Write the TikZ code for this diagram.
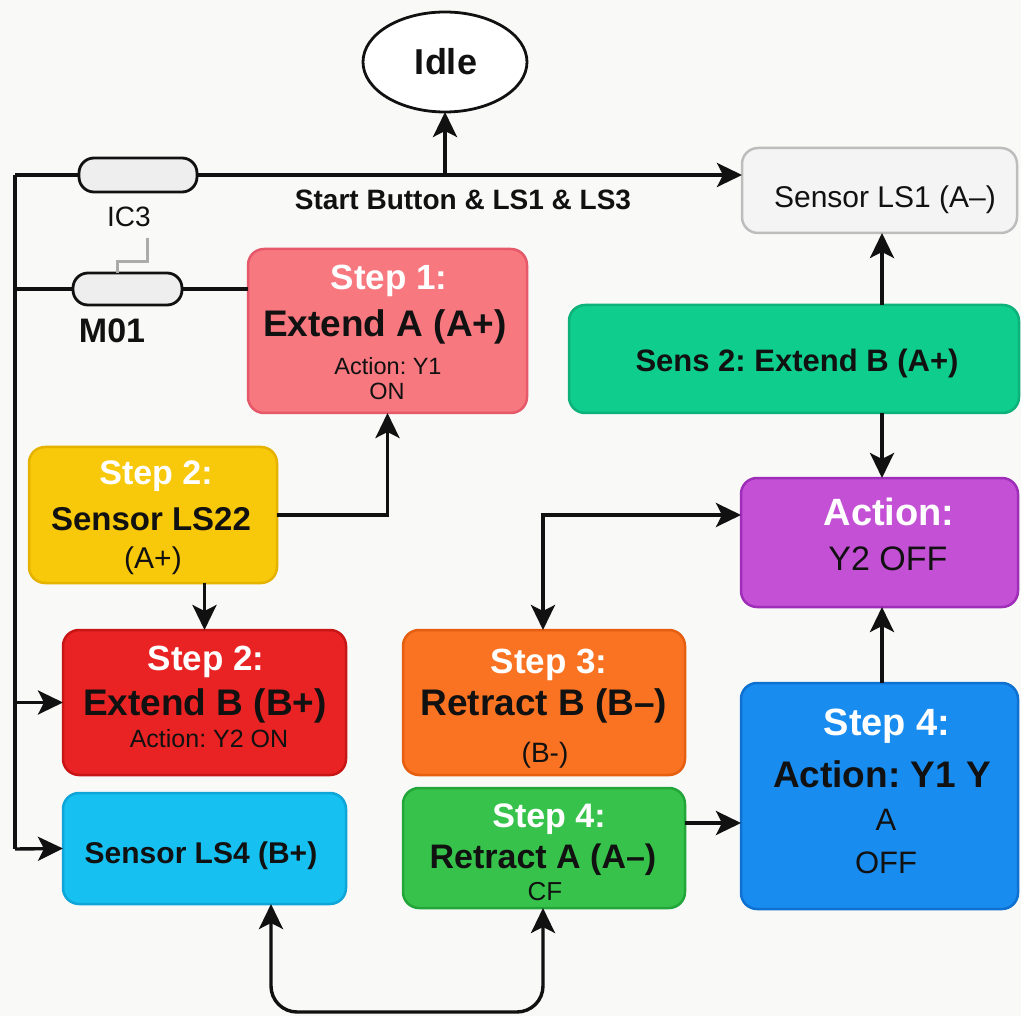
\documentclass[tikz,border=0pt]{standalone}
\usepackage{fontspec}
\setmainfont{Liberation Sans}
\usetikzlibrary{arrows.meta,shapes.geometric}

\newcommand\fsz[1]{\fontsize{#1}{#1}\selectfont}
\frenchspacing

% palette
\definecolor{bgc}{HTML}{F9F9F7}
\definecolor{ink}{HTML}{111111}
\definecolor{pinkF}{HTML}{F7787F}\definecolor{pinkD}{HTML}{E5596A}
\definecolor{yelF}{HTML}{F8C80A}\definecolor{yelD}{HTML}{E6B200}
\definecolor{redF}{HTML}{E92323}\definecolor{redD}{HTML}{C81515}
\definecolor{cyaF}{HTML}{16C0F0}\definecolor{cyaD}{HTML}{0EA5D8}
\definecolor{oraF}{HTML}{FA7323}\definecolor{oraD}{HTML}{E65E10}
\definecolor{grnF}{HTML}{37C34B}\definecolor{grnD}{HTML}{22A63A}
\definecolor{bluF}{HTML}{198CF0}\definecolor{bluD}{HTML}{0E70D0}
\definecolor{purF}{HTML}{C450D6}\definecolor{purD}{HTML}{9E2DB8}
\definecolor{tealF}{HTML}{0FCD8C}\definecolor{tealD}{HTML}{0CB27A}
\definecolor{grayF}{HTML}{F4F4F4}\definecolor{grayD}{HTML}{BDBDBD}
\definecolor{capF}{HTML}{EEEEEE}
\definecolor{linkG}{HTML}{ABABAB}

\tikzset{
  box/.style={draw, line width=2.5pt, rounded corners=16pt, inner sep=0pt, outer sep=0pt},
  capsule/.style={draw=ink, fill=capF, line width=2.8pt, rounded corners=15pt, inner sep=0pt, outer sep=0pt},
  lbl/.style={anchor=base, inner sep=0pt, outer sep=0pt},
  hd/.style={lbl, text=white, font={\fsz{#1}\bfseries}},
  bk/.style={lbl, text=ink, font={\fsz{#1}\bfseries}},
  rg/.style={lbl, text=ink, font={\fsz{#1}}},
  conn/.style={line width=3.4pt, draw=ink},
  tip/.tip={Stealth[length=25pt,width=24pt,inset=6pt]},
  arr/.style={conn, -tip},
  arrs/.style={conn, tip-tip},
}

\begin{document}
\begin{tikzpicture}[x=1pt,y=-1pt]
\fill[bgc] (0,0) rectangle (1021,1016);
\useasboundingbox (0,0) rectangle (1021,1016);

% ---- state boxes ----
\node[draw=ink, line width=2.8pt, fill=white, ellipse, minimum width=164pt, minimum height=100pt, inner sep=0pt, outer sep=0pt] (idle) at (445,62) {};
\node[box, draw=grayD, fill=grayF, minimum width=275pt, minimum height=85pt] (ls1) at (879.5,190.5) {};
\node[box, draw=tealD, fill=tealF, minimum width=450pt, minimum height=108pt] (sens2) at (794,359) {};
\node[box, draw=purD, fill=purF, minimum width=277pt, minimum height=129pt] (act) at (879.5,542.5) {};
\node[box, draw=bluD, fill=bluF, minimum width=277pt, minimum height=226pt] (s4b) at (879.5,796) {};
\node[box, draw=pinkD, fill=pinkF, minimum width=279pt, minimum height=164pt] (s1) at (387.5,331) {};
\node[box, draw=yelD, fill=yelF, minimum width=248pt, minimum height=136pt] (s2y) at (153,515) {};
\node[box, draw=redD, fill=redF, minimum width=283pt, minimum height=145pt] (s2r) at (204.5,702.5) {};
\node[box, draw=cyaD, fill=cyaF, minimum width=283pt, minimum height=111pt] (ls4) at (204.5,848.5) {};
\node[box, draw=oraD, fill=oraF, minimum width=282pt, minimum height=145pt] (s3) at (544,702.5) {};
\node[box, draw=grnD, fill=grnF, minimum width=282pt, minimum height=120pt] (s4g) at (544,848) {};

% ---- contacts ----
\node[capsule, minimum width=118pt, minimum height=34pt] (ic3) at (138,175) {};
\node[capsule, minimum width=109pt, minimum height=32pt] (m01) at (127.5,289) {};
\draw[linkG, line width=3pt] (117,273) -- (117,262) -- (147,262) -- (147,238);

% ---- rail and rungs ----
\coordinate (rt) at (15,175);
\coordinate (rb) at (15,849);
\coordinate (jidle) at (445,175);
\draw[conn] (rt) -- (rb);
\draw[conn] (rt) -- (ic3.west);
\draw[arr] (ic3.east) -- (ls1.west |- ic3.east);
\draw[arr] (jidle) -- (idle.south);
\draw[conn] (rt |- m01.west) -- (m01.west);
\draw[conn] (m01.east) -- (s1.west |- m01.east);
\draw[arr] (rb |- s2r.west) -- (s2r.west);
\draw[arr] (rb) -- (ls4.west);

% ---- flow connectors ----
\draw[arr] (s2y.east) -| (s1.south);
\draw[arr] (s2y.south -| s2r.north) -- (s2r.north);
\draw[arr] (sens2.north -| 882,0) -- (ls1.south -| 882,0);
\draw[arr] (sens2.south -| 882,0) -- (act.north -| 882,0);
\draw[arr] (s4b.north -| 882,0) -- (act.south -| 882,0);
\coordinate (k) at (543,515);
\draw[arrs] (s3.north -| k) -- (k) -- (k -| act.west);
\coordinate (g) at (685,823);
\draw[arr] (s4g.east |- g) -- (s4b.west |- g);
\coordinate (bl) at (271,1012);
\coordinate (br) at (543,1012);
\draw[arrs, rounded corners=26pt] (ls4.south -| bl) -- (bl) -- (br) -- (s4g.south -| br);

% ---- texts ----
\node[bk=36] (tidle) at (446,75) {Idle};
\node[bk=28] (tstart) at (463,210) {Start Button \& LS1 \& LS3};
\node[rg=28] (tic3) at (129,227) {IC3};
\node[bk=34] (tm01) at (112,343) {M01};

\node[rg=30] (tls1) at (885,208) {Sensor LS1 (A–)};
\node[bk=31] (tsens2) at (797,372) {Sens 2: Extend B (A+)};
\node[hd=38] (tact1) at (889,525) {Action:};
\node[rg=34] (tact2) at (888,570) {Y2 OFF};

\node[hd=38] (tb1) at (887,735) {Step 4:};
\node[bk=37] (tb2) at (882,787) {Action: Y1 Y};
\node[rg=31] (tb3) at (886,830) {A};
\node[rg=31] (tb4) at (886,873) {OFF};

\node[hd=35] (tp1) at (389,290) {Step 1:};
\node[bk=37] (tp2) at (385,337) {Extend A (A+)};
\node[rg=23.5] (tp3) at (388,375) {Action: Y1};
\node[rg=23.5] (tp4) at (387,400) {ON};

\node[hd=34] (ty1) at (156,485) {Step 2:};
\node[bk=33] (ty2) at (151,530) {Sensor LS22};
\node[rg=30] (ty3) at (153,568) {(A+)};

\node[hd=35] (tr1) at (206,670) {Step 2:};
\node[bk=37] (tr2) at (205,715) {Extend B (B+)};
\node[rg=25] (tr3) at (209,747) {Action: Y2 ON};

\node[bk=30] (tc1) at (201,863) {Sensor LS4 (B+)};

\node[hd=35] (to1) at (549,673) {Step 3:};
\node[bk=37] (to2) at (544,715) {Retract B (B–)};
\node[rg=28] (to3) at (545,762) {(B-)};

\node[hd=34] (tg1) at (549,827) {Step 4:};
\node[bk=34] (tg2) at (543,868) {Retract A (A–)};
\node[rg=26] (tg3) at (545,900) {CF};
\end{tikzpicture}
\end{document}
